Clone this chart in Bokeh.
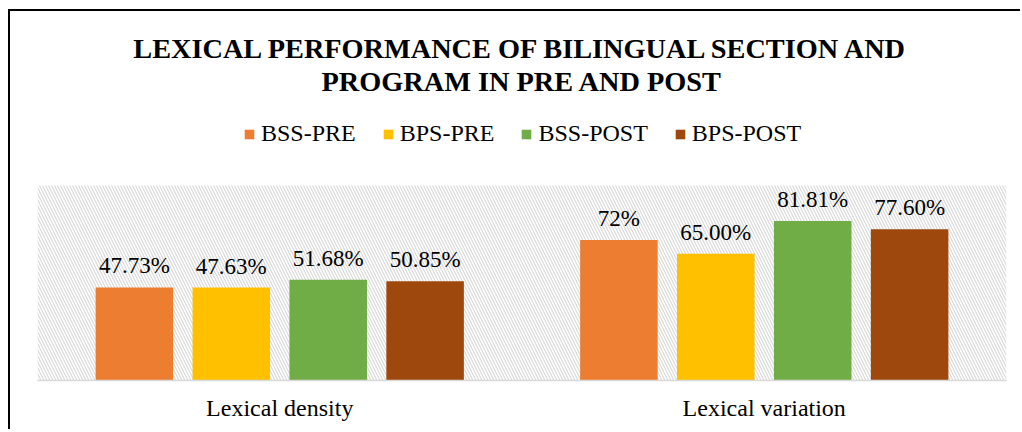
from bokeh.plotting import figure
from bokeh.models import (ColumnDataSource, FactorRange, Range1d, Legend, LegendItem,
                          Title, BoxAnnotation, LabelSet)
from bokeh.transform import dodge
from bokeh.embed import file_html
from bokeh.resources import INLINE

categories = ["Lexical density", "Lexical variation"]
series_names = ["BSS-PRE", "BPS-PRE", "BSS-POST", "BPS-POST"]
bss_pre = [47.73, 72.0]
bps_pre = [47.63, 65.00]
bss_post = [51.68, 81.81]
bps_post = [50.85, 77.60]
labels_bss_pre = ["47.73%", "72%"]
labels_bps_pre = ["47.63%", "65.00%"]
labels_bss_post = ["51.68%", "81.81%"]
labels_bps_post = ["50.85%", "77.60%"]
colors = ["#ED7D31", "#FFC000", "#70AD47", "#9E480E"]

series_vals = [bss_pre, bps_pre, bss_post, bps_post]
series_labels = [labels_bss_pre, labels_bps_pre, labels_bss_post, labels_bps_post]
offsets = [-0.3, -0.1, 0.1, 0.3]

SERIF = "Liberation Serif"
AXIS_MAX = 100      # top of the hatched plot area (100%)
Y_TOP = 145.6       # extra headroom above the plot area for the legend

p = figure(x_range=FactorRange(*categories, range_padding=0), y_range=Range1d(0, Y_TOP),
           width=1012, height=420, output_backend="svg", toolbar_location=None,
           min_border_left=27, min_border_right=16, min_border_bottom=51, min_border_top=85)
p.margin = (9, 0, 0, 8)
p.styles = {"border-left": "2px solid black", "border-top": "2px solid black"}

p.outline_line_color = None
p.border_fill_color = "white"
p.background_fill_color = "white"
p.xgrid.grid_line_color = None
p.ygrid.grid_line_color = None
p.yaxis.visible = False

hatch = BoxAnnotation(top=AXIS_MAX, fill_alpha=0, line_color=None, hatch_pattern="\\",
                      hatch_color="#d9d9d9", hatch_scale=6, hatch_weight=1.2, level="underlay")
p.add_layout(hatch)

items = []
for name, vals, labs, col, off in zip(series_names, series_vals, series_labels, colors, offsets):
    src = ColumnDataSource(dict(cat=categories, val=vals, lab=labs))
    r = p.vbar(x=dodge("cat", off, range=p.x_range), top="val", width=0.16, source=src,
               fill_color=col, line_color=None)
    items.append(LegendItem(label=name, renderers=[r]))
    ls = LabelSet(x=dodge("cat", off, range=p.x_range), y="val", text="lab", source=src,
                  text_align="center", text_baseline="bottom", y_offset=9,
                  text_font=SERIF, text_font_size="23px", text_color="#000000")
    p.add_layout(ls)

ax = p.xaxis[0]
ax.axis_line_color = "#d9d9d9"
ax.axis_line_width = 1.5
ax.major_tick_line_color = None
ax.minor_tick_line_color = None
ax.major_label_text_font = SERIF
ax.major_label_text_font_size = "24px"
ax.major_label_text_color = "#000000"
ax.major_label_standoff = 8

legend = Legend(items=items, orientation="horizontal", location=(206, 233),
                label_text_font=SERIF, label_text_font_size="24px", label_text_color="#000000",
                glyph_width=12, glyph_height=12, label_standoff=6, spacing=26,
                border_line_color=None, background_fill_alpha=0, padding=4, margin=0)
p.add_layout(legend)

t2 = Title(text="PROGRAM IN PRE AND POST", align="center", text_font=SERIF, offset=4,
           text_font_size="28.3px", text_font_style="bold", text_color="#000000", standoff=0)
t1 = Title(text="LEXICAL PERFORMANCE OF BILINGUAL SECTION AND", align="center", text_font=SERIF,
           offset=4, text_font_size="28.3px", text_font_style="bold", text_color="#000000", standoff=0)
p.add_layout(t2, "above")
p.add_layout(t1, "above")

open("out.html", "w").write(file_html(p, INLINE))
